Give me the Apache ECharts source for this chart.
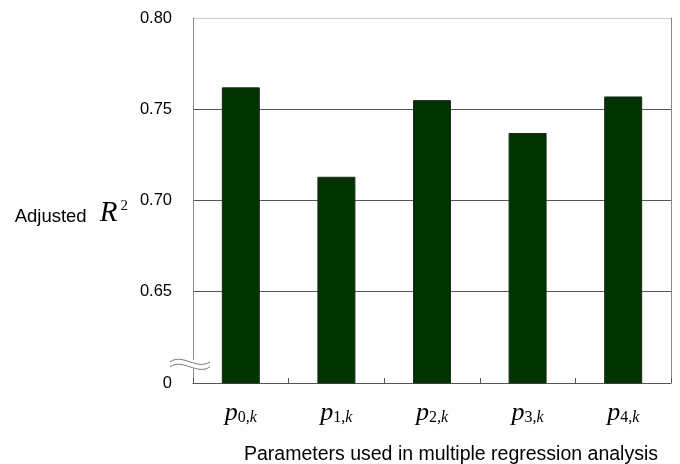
<!DOCTYPE html>
<html><head><meta charset="utf-8">
<script src="https://cdn.jsdelivr.net/npm/echarts@6/dist/echarts.min.js"></script>
<style>html,body{margin:0;padding:0;background:#fff}#c{width:680px;height:464px}</style>
</head><body><div id="c"></div>
<script>
const categories = ['0', '1', '2', '3', '4'];
const adjustedR2 = [0.762, 0.713, 0.755, 0.737, 0.757];
const yMin = 0.60, yMax = 0.80, yStep = 0.05;
const xTitle = 'Parameters used in multiple regression analysis';

const chart = echarts.init(document.getElementById('c'));
chart.setOption({
  animation: false,
  backgroundColor: '#fff',
  grid: { left: 193, top: 18, right: 9, bottom: 81, containLabel: false, outerBoundsMode: 'none' },
  xAxis: {
    type: 'category', data: categories,
    name: xTitle, nameLocation: 'end',
    nameTextStyle: { fontFamily: 'Liberation Sans', fontSize: 19.5, color: '#000', align: 'right', verticalAlign: 'top', padding: [62, 13, 0, 0] },
    nameGap: 0,
    axisLine: { lineStyle: { color: '#555', width: 1 } },
    axisTick: { show: true, inside: true, length: 5, lineStyle: { color: '#555' } },
    axisLabel: {
      interval: 0,
      margin: 17,
      formatter: v => `{p|p}{s|${v},}{k|k}`,
      rich: {
        p: { fontFamily: 'Liberation Serif', fontStyle: 'italic', fontSize: 26, color: '#000' },
        s: { fontFamily: 'Liberation Serif', fontSize: 16, color: '#000', padding: [10, 0, 0, 0] },
        k: { fontFamily: 'Liberation Serif', fontStyle: 'italic', fontSize: 16, color: '#000', padding: [10, 0, 0, 0] }
      }
    }
  },
  yAxis: [{
    type: 'value', min: yMin, max: yMax, interval: yStep,
    name: '{a|Adjusted }{r|R}{u|2}', nameLocation: 'middle', nameRotate: 0, nameGap: 65,
    nameTextStyle: {
      padding: [26, 0, 0, 0],
      rich: {
        a: { fontFamily: 'Liberation Sans', fontSize: 18.5, color: '#000', padding: [6, 8, 0, 0] },
        r: { fontFamily: 'Liberation Serif', fontStyle: 'italic', fontSize: 29, color: '#000' },
        u: { fontFamily: 'Liberation Serif', fontSize: 15, color: '#000', padding: [0, 0, 14, 3] }
      }
    },
    axisLine: { show: true, lineStyle: { color: '#888' } },
    axisTick: { show: false },
    axisLabel: {
      margin: 21, fontFamily: 'Liberation Sans', fontSize: 16.5, color: '#000', padding: [3, 0, 0, 0],
      formatter: v => Math.abs(v - yMin) < 1e-9 ? '0' : v.toFixed(2)
    },
    splitLine: { show: true, lineStyle: { color: ['#555', '#555', '#555', '#555', '#ccc'], width: 1 } }
  }, {
    type: 'value', min: yMin, max: yMax, interval: yStep, position: 'right',
    axisLine: { show: true, lineStyle: { color: '#888' } },
    axisTick: { show: false }, axisLabel: { show: false }, splitLine: { show: false }
  }],
  series: [{
    type: 'bar', data: adjustedR2, barWidth: 38,
    itemStyle: { color: '#003300', borderColor: '#1a2a1a', borderWidth: 1 }
  }]
});

// axis break decoration
const xLeft = chart.convertToPixel({ xAxisIndex: 0 }, 0) - 95.6 / 2;
const yb = chart.convertToPixel({ yAxisIndex: 0 }, yMin + 0.0105);
const wave = (dy) => ({
  type: 'bezierCurve',
  shape: { x1: xLeft - 23, y1: yb + dy, cpx1: xLeft - 10, cpy1: yb + dy - 9, cpx2: xLeft + 4, cpy2: yb + dy + 9, x2: xLeft + 17, y2: yb + dy },
  style: { stroke: '#777', lineWidth: 1, fill: null }, z: 100
});
chart.setOption({
  graphic: [
    { type: 'rect', shape: { x: xLeft - 4, y: yb - 4, width: 8, height: 9 }, style: { fill: '#fff' }, z: 99 },
    wave(-2), wave(3)
  ]
});
</script></body></html>
